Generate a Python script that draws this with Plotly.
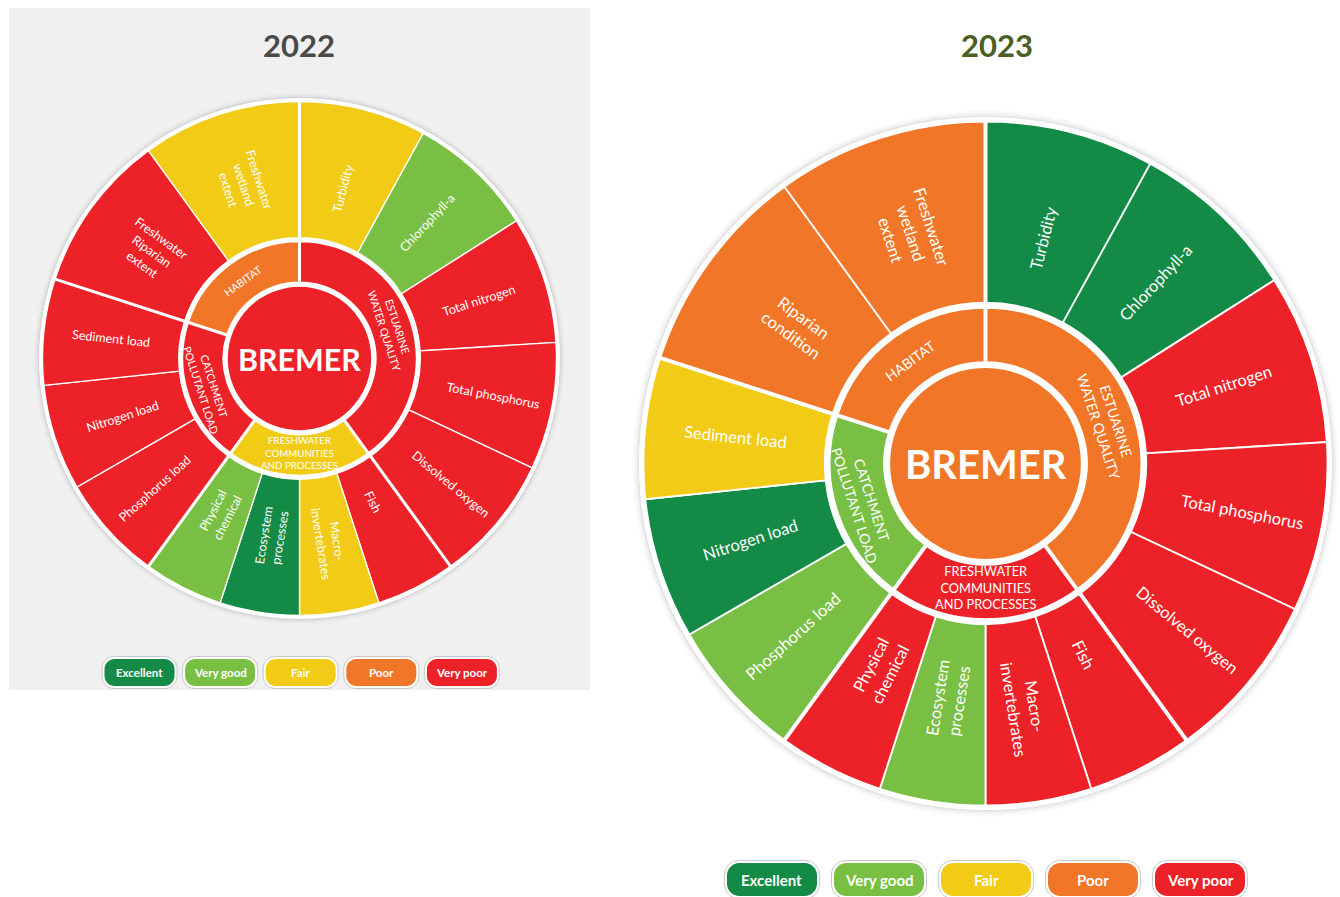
import math
import plotly.graph_objects as go

W, H = 1340, 897

# ---------------- data ----------------
group_labels = [["ESTUARINE", "WATER QUALITY"],
                ["FRESHWATER", "COMMUNITIES", "AND PROCESSES"],
                ["CATCHMENT", "POLLUTANT LOAD"],
                ["HABITAT"]]
group_units = [2, 1, 1, 1]          # relative angular share of each group

indicator_group = [0, 0, 0, 0, 0, 1, 1, 1, 1, 2, 2, 2, 3, 3]

indicators_2022 = ["Turbidity", "Chlorophyll-a", "Total nitrogen", "Total phosphorus",
                   "Dissolved oxygen", "Fish", "Macro-<br>invertebrates",
                   "Ecosystem<br>processes", "Physical<br>chemical", "Phosphorus load",
                   "Nitrogen load", "Sediment load", "Freshwater<br>Riparian<br>extent",
                   "Freshwater<br>wetland<br>extent"]
grades_2022 = ["Fair", "Very good", "Very poor", "Very poor", "Very poor", "Very poor",
               "Fair", "Excellent", "Very good", "Very poor", "Very poor", "Very poor",
               "Very poor", "Fair"]
group_grades_2022 = ["Very poor", "Fair", "Very poor", "Poor"]
overall_2022 = "Very poor"

indicators_2023 = ["Turbidity", "Chlorophyll-a", "Total nitrogen", "Total phosphorus",
                   "Dissolved oxygen", "Fish", "Macro-<br>invertebrates",
                   "Ecosystem<br>processes", "Physical<br>chemical", "Phosphorus load",
                   "Nitrogen load", "Sediment load", "Riparian<br>condition",
                   "Freshwater<br>wetland<br>extent"]
grades_2023 = ["Excellent", "Excellent", "Very poor", "Very poor", "Very poor", "Very poor",
               "Very poor", "Very good", "Very poor", "Very good", "Excellent", "Fair",
               "Poor", "Poor"]
group_grades_2023 = ["Poor", "Very poor", "Very good", "Poor"]
overall_2023 = "Poor"

centre_label = "BREMER"
grade_names = ["Excellent", "Very good", "Fair", "Poor", "Very poor"]
grade_colors = ["#138a46", "#79bf43", "#f2cb16", "#f17627", "#ec2228"]
COL = dict(zip(grade_names, grade_colors))

FONT = "Lato"

# approximate Lato advance widths (em) used to anchor radial labels at the inner end
_NARROW = {"i": .24, "l": .24, "j": .24, "t": .35, "f": .32, "r": .37, "s": .42,
           "c": .45, "z": .45, "-": .35, " ": .19, "m": .83, "w": .76}


def text_width(line, size):
    return size * sum(_NARROW.get(ch, .65 if ch.isupper() else .53) for ch in line)


# ---------------- geometry helpers ----------------
def angles():
    total = sum(group_units)
    g_start, g_span = [], []
    a = 0.0
    for u in group_units:
        s = 360.0 * u / total
        g_start.append(a)
        g_span.append(s)
        a += s
    counts = [indicator_group.count(g) for g in range(len(group_units))]
    ind_c, ind_w = [], []
    seen = [0] * len(group_units)
    for g in indicator_group:
        w = g_span[g] / counts[g]
        ind_c.append(g_start[g] + w * (seen[g] + 0.5))
        ind_w.append(w)
        seen[g] += 1
    g_c = [g_start[i] + g_span[i] / 2 for i in range(len(g_span))]
    return g_start, g_span, g_c, ind_c, ind_w


def to_paper(cx, cy, rpx, th):
    x = cx + rpx * math.sin(math.radians(th))
    y = cy - rpx * math.cos(math.radians(th))
    return x / W, 1 - y / H


def radial_angle(th):
    return th - 90 if th < 180 else th - 270


def tangential_angle(th):
    if th <= 90:
        return th
    if th >= 270:
        return th - 360
    return th - 180


def label(x, y, text, size, color="white", angle=0):
    return dict(x=x, y=y, xref="paper", yref="paper", text=text, showarrow=False,
                textangle=angle, xanchor="center", yanchor="middle", align="center",
                borderpad=0, font=dict(family=FONT, size=size, color=color))


RMAX = 1.035
R_DISC = 1.013
R_CENTRE, R_IN0, R_IN1, R_OUT0, R_OUT1 = 0.279, 0.297, 0.455, 0.470, 1.0
R_TEXT0 = 0.585      # inner end of indicator labels
R_GRP = 0.374        # middle of group labels
R_GRP3 = 0.364       # middle of three-line group labels

fig = go.Figure()
annotations = []
shapes = []

# grey panel behind 2022 wheel
shapes.append(dict(type="rect", xref="paper", yref="paper", x0=9 / W, x1=590 / W,
                   y0=1 - 690 / H, y1=1 - 8 / H, fillcolor="#f0f0f0",
                   line=dict(width=0), layer="below"))

wheels = [
    dict(polar="polar", cx=299.5, cy=358.5, R=257, s=0.76, title="2022", tcol="#4a4a4a",
         tx=299, ind=indicators_2022, gr=grades_2022, ggr=group_grades_2022, ov=overall_2022,
         leg=dict(x0=139.5, dx=80.6, y=672.5, w=70, h=27, fs=11.5)),
    dict(polar="polar2", cx=985.5, cy=463.5, R=342, s=1.0, title="2023", tcol="#4b5e24",
         tx=997, ind=indicators_2023, gr=grades_2023, ggr=group_grades_2023, ov=overall_2023,
         leg=dict(x0=772, dx=107, y=879.5, w=90, h=33, fs=15)),
]

g_start, g_span, g_c, ind_c, ind_w = angles()

for wh in wheels:
    sub = wh["polar"]
    cx, cy, R, s = wh["cx"], wh["cy"], wh["R"], wh["s"]
    # soft shadow rings + white backing disc
    for b0, b1, c in [(1.022, 1.032, "rgba(0,0,0,0.025)"), (1.017, 1.024, "rgba(0,0,0,0.05)"),
                      (1.012, 1.018, "rgba(0,0,0,0.10)")]:
        fig.add_trace(go.Barpolar(r=[b1 - b0], base=[b0], theta=[0], width=[360],
                                  marker=dict(color=c, line=dict(width=0)),
                                  subplot=sub, hoverinfo="skip", showlegend=False))
    fig.add_trace(go.Barpolar(r=[R_DISC], base=[0], theta=[0], width=[360],
                              marker=dict(color="white", line=dict(width=0)),
                              subplot=sub, hoverinfo="skip", showlegend=False))
    # centre disc
    fig.add_trace(go.Barpolar(r=[R_CENTRE], base=[0], theta=[0], width=[360],
                              marker=dict(color=COL[wh["ov"]], line=dict(width=0)),
                              subplot=sub, hoverinfo="skip", showlegend=False))
    # group ring
    fig.add_trace(go.Barpolar(r=[R_IN1 - R_IN0] * len(g_c), base=[R_IN0] * len(g_c),
                              theta=g_c, width=g_span,
                              marker=dict(color=[COL[g] for g in wh["ggr"]],
                                          line=dict(color="white", width=1.5)),
                              subplot=sub, hoverinfo="skip", showlegend=False))
    # indicator ring
    fig.add_trace(go.Barpolar(r=[R_OUT1 - R_OUT0] * len(ind_c), base=[R_OUT0] * len(ind_c),
                              theta=ind_c, width=ind_w,
                              marker=dict(color=[COL[g] for g in wh["gr"]],
                                          line=dict(color="white", width=1.8 * s)),
                              subplot=sub, hoverinfo="skip", showlegend=False))
    # thicker separators between groups
    rr, tt = [], []
    for a in g_start:
        rr += [R_IN0 - 0.01, R_OUT1, None]
        tt += [a, a, None]
    fig.add_trace(go.Scatterpolar(r=rr, theta=tt, mode="lines",
                                  line=dict(color="white", width=4 * s),
                                  subplot=sub, hoverinfo="skip", showlegend=False))

    fig.update_layout(**{sub: dict(
        domain=dict(x=[(cx - R * RMAX) / W, (cx + R * RMAX) / W],
                    y=[1 - (cy + R * RMAX) / H, 1 - (cy - R * RMAX) / H]),
        bgcolor="rgba(0,0,0,0)",
        radialaxis=dict(range=[0, RMAX], visible=False),
        angularaxis=dict(rotation=90, direction="clockwise", showgrid=False,
                         showticklabels=False, ticks="", showline=False),
    )})

    # indicator labels (radial, anchored at the inner end)
    fs = 16.5 * s
    for lab, th in zip(wh["ind"], ind_c):
        wmax = max(text_width(ln, fs) for ln in lab.split("<br>"))
        x, y = to_paper(cx, cy, R_TEXT0 * R + wmax / 2, th)
        annotations.append(label(x, y, lab, fs, angle=radial_angle(th)))
    # group labels (tangential)
    for lines, th in zip(group_labels, g_c):
        three = len(lines) >= 3
        r = R_GRP3 if three else R_GRP
        gfs = (12.8 if three else 14) * s
        x, y = to_paper(cx, cy, r * R, th)
        annotations.append(label(x, y, "<br>".join(lines), gfs, angle=tangential_angle(th)))
    # centre
    annotations.append(label(cx / W, 1 - cy / H, "<b>" + centre_label + "</b>", 40 * s))
    # title
    annotations.append(label(wh["tx"] / W, 1 - 45 / H, "<b>" + wh["title"] + "</b>", 31,
                             color=wh["tcol"]))

    # legend pills
    lg = wh["leg"]
    for i, (name, col) in enumerate(zip(grade_names, grade_colors)):
        pcx = lg["x0"] + i * lg["dx"]
        pcy = lg["y"]
        for pad, fill, lc, lw in [(2.5, "white", "#c9c9c9", 1), (0, col, "white", 0)]:
            w2 = lg["w"] / 2 + pad
            h2 = lg["h"] / 2 + pad
            rad = h2 * 0.75
            pts = []
            corners = [(pcx + w2 - rad, pcy - h2 + rad, -90, 0),
                       (pcx + w2 - rad, pcy + h2 - rad, 0, 90),
                       (pcx - w2 + rad, pcy + h2 - rad, 90, 180),
                       (pcx - w2 + rad, pcy - h2 + rad, 180, 270)]
            for (ccx, ccy, a0, a1) in corners:
                for k in range(9):
                    a = math.radians(a0 + (a1 - a0) * k / 8)
                    pts.append((ccx + rad * math.cos(a), ccy + rad * math.sin(a)))
            path = "M " + " L ".join(f"{px / W:.5f},{1 - py / H:.5f}" for px, py in pts) + " Z"
            shapes.append(dict(type="path", path=path, xref="paper", yref="paper",
                               fillcolor=fill, line=dict(color=lc, width=lw)))
        annotations.append(label(pcx / W, 1 - pcy / H, "<b>" + name + "</b>", lg["fs"]))

fig.update_layout(width=W, height=H, margin=dict(l=0, r=0, t=0, b=0),
                  paper_bgcolor="white", plot_bgcolor="white",
                  showlegend=False, annotations=annotations, shapes=shapes)

fig.write_html("out.html", config={"displayModeBar": False},
               post_script="document.body.style.margin='0';document.body.style.overflow='hidden';")
